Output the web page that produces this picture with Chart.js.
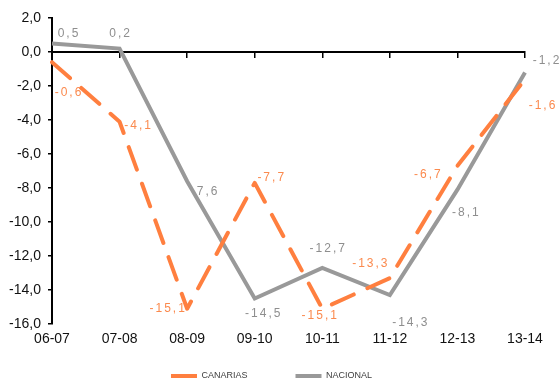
<!DOCTYPE html>
<html>
<head>
<meta charset="utf-8">
<script src="https://cdn.jsdelivr.net/npm/chart.js@4"></script>
<style>
html,body{margin:0;padding:0;background:#fff;}
#wrap{width:559px;height:380px;}
</style>
</head>
<body>
<div id="wrap"><canvas id="c" width="559" height="380"></canvas></div>
<script>
const categories = ['06-07','07-08','08-09','09-10','10-11','11-12','12-13','13-14'];
const canarias = [-0.6, -4.1, -15.1, -7.7, -15.1, -13.3, -6.7, -1.6];
const nacional = [0.5, 0.2, -7.6, -14.5, -12.7, -14.3, -8.1, -1.2];
const yTickValues = [2, 0, -2, -4, -6, -8, -10, -12, -14, -16];
const seriesNames = ['CANARIAS', 'NACIONAL'];

// label placement (text centre relative to its point), per series
const labelOffsets = [
  [[16,30],[18,4],[-20,0],[16,-5],[-3,7],[-20,-14],[-30,9],[17,26]],
  [[16,-10],[0,-15],[17,10],[8,15],[5,-19],[20,28],[8,23],[21,-12]]
];
const labelColors = ['#fb8a4e', '#8e8e8e'];
const FONT = '"Liberation Sans", Arial, sans-serif';

const fmt = v => v.toFixed(1).replace('.', ',');

const valueLabels = {
  id: 'valueLabels',
  beforeDatasetsDraw(chart) {
    const ctx = chart.ctx;
    ctx.save();
    ctx.font = '12px ' + FONT;
    ctx.letterSpacing = '2px';
    ctx.textAlign = 'center';
    ctx.textBaseline = 'middle';
    chart.data.datasets.forEach((ds, di) => {
      const meta = chart.getDatasetMeta(di);
      meta.data.forEach((pt, i) => {
        const off = labelOffsets[di][i];
        ctx.fillStyle = labelColors[di];
        ctx.fillText(fmt(ds.data[i]), pt.x + off[0] + 1, pt.y + off[1]);
      });
    });
    ctx.restore();
  }
};

const LEGEND_PAD = 48;
const legendShift = {
  id: 'legendShift',
  afterLayout(chart) {
    const lg = chart.legend;
    if (lg) {
      lg.left += 9; lg.right += 9;
      lg.top = 376 - LEGEND_PAD - 4.5; lg.bottom = chart.height;
    }
  }
};

new Chart(document.getElementById('c'), {
  type: 'line',
  data: {
    labels: categories,
    datasets: [
      { label: seriesNames[0], data: canarias, borderColor: '#ff7f3f', backgroundColor: '#ff7f3f',
        borderWidth: 4, borderDash: [24, 15], borderCapStyle: 'round', borderJoinStyle: 'round',
        pointRadius: 0, tension: 0, fill: false },
      { label: seriesNames[1], data: nacional, borderColor: '#999999', backgroundColor: '#999999',
        borderWidth: 4, borderJoinStyle: 'miter', pointRadius: 0, tension: 0, fill: false }
    ]
  },
  options: {
    responsive: false,
    animation: false,
    layout: { padding: { top: 18, right: 34, left: 0, bottom: 0 } },
    plugins: {
      tooltip: { enabled: false },
      legend: {
        position: 'bottom',
        maxHeight: 26,
        labels: {
          boxWidth: 26, boxHeight: 4, padding: LEGEND_PAD, color: '#404040',
          font: { family: FONT, size: 9 },
          generateLabels(chart) {
            return chart.data.datasets.map((ds, i) => ({
              text: ds.label, fillStyle: ds.borderColor, strokeStyle: ds.borderColor,
              lineWidth: 0, lineDash: [], hidden: false, datasetIndex: i, fontColor: '#404040'
            }));
          }
        }
      }
    },
    scales: {
      x: {
        type: 'category',
        position: { y: 0 },
        offset: false,
        ticks: { display: false },
        grid: { display: true, drawOnChartArea: false, drawTicks: true, tickLength: 5, color: '#000', lineWidth: 1.5 },
        border: { display: true, color: '#000', width: 2 }
      },
      x2: {
        type: 'category',
        labels: categories,
        position: 'bottom',
        offset: false,
        afterFit(axis) { axis.height = 30; },
        ticks: {
          autoSkip: false, maxRotation: 0, padding: 7, color: '#111',
          font: { family: FONT, size: 14 }
        },
        grid: { display: false, drawTicks: false },
        border: { display: false }
      },
      y: {
        min: -16, max: 2,
        afterBuildTicks(axis) { axis.ticks = yTickValues.map(v => ({ value: v })); },
        afterFit(axis) { axis.width = 52; },
        ticks: {
          padding: 7, color: '#111',
          font: { family: FONT, size: 14 },
          callback: (v) => fmt(v)
        },
        grid: { display: true, drawOnChartArea: false, drawTicks: true, tickLength: 4, color: '#000', lineWidth: 1.5 },
        border: { display: true, color: '#000', width: 2 }
      }
    }
  },
  plugins: [valueLabels, legendShift]
});
</script>
</body>
</html>
